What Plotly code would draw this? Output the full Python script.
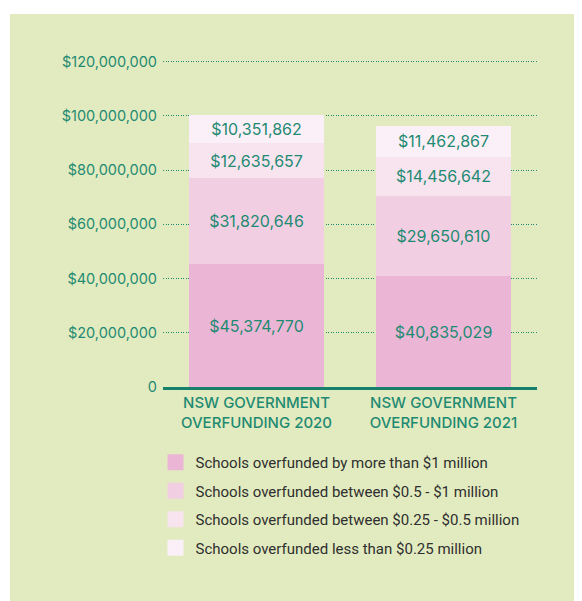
import plotly.graph_objs as go

# chart data
years = ["NSW GOVERNMENT<br>OVERFUNDING 2020", "NSW GOVERNMENT<br>OVERFUNDING 2021"]
over_1m = [45374770, 40835029]
between_05_1m = [31820646, 29650610]
between_025_05m = [12635657, 14456642]
under_025m = [10351862, 11462867]

series_names = [
    "Schools overfunded by more than $1 million",
    "Schools overfunded between $0.5 - $1 million",
    "Schools overfunded between $0.25 - $0.5 million",
    "Schools overfunded less than $0.25 million",
]
series_values = [over_1m, between_05_1m, between_025_05m, under_025m]
colors = ["#ebb6d6", "#f2cee2", "#f7e4ef", "#fbf0f7"]

y_ticks = [0, 20e6, 40e6, 60e6, 80e6, 100e6, 120e6]
y_tick_text = ["0", "$20,000,000", "$40,000,000", "$60,000,000",
               "$80,000,000", "$100,000,000", "$120,000,000"]

TEAL = "#1f8a72"
# page body has an 8px margin, so the figure is 8px smaller than the window
W, H = 574, 593
ML, MR, MT, MB = 155, 45, 51, 214

data = []
for name, vals, col in zip(series_names, series_values, colors):
    data.append(go.Bar(
        x=years,
        y=vals,
        name=name,
        marker=dict(color=col, line=dict(width=0)),
        text=["${:,}".format(v) for v in vals],
        textposition="inside",
        insidetextanchor="middle",
        textangle=0,
        textfont=dict(family="Inter", size=16, color=TEAL),
        showlegend=False,
        hoverinfo="skip"))

# legend proxies (bigger squares)
for i, (name, col) in enumerate(zip(series_names, colors)):
    data.append(go.Scatter(
        x=[None], y=[None],
        mode="markers",
        name=name,
        legendgroup=str(i),
        marker=dict(symbol="square", size=20, color=col),
        showlegend=True))

pw = W - ML - MR
ph = H - MT - MB
bg = dict(type="rect", xref="paper", yref="paper", layer="below",
          x0=(2 - ML) / pw, x1=(W - ML) / pw,
          y0=-MB / ph, y1=(H - 6 - MB) / ph,
          fillcolor="#e2ebbf", line=dict(width=0))

layout = go.Layout(
    width=W, height=H,
    margin=dict(l=ML, r=MR, t=MT, b=MB),
    paper_bgcolor="white",
    plot_bgcolor="rgba(0,0,0,0)",
    barmode="stack",
    bargap=0.28,
    shapes=[bg],
    font=dict(family="Inter", color=TEAL),
    xaxis=dict(
        showgrid=False,
        showline=True, linecolor="#17806a", linewidth=3,
        tickfont=dict(family="Inter", size=15, color=TEAL, weight=500),
        ticks=""),
    yaxis=dict(
        range=[0, 121e6],
        tickvals=y_ticks, ticktext=y_tick_text,
        tickfont=dict(family="Inter", size=14.5, color=TEAL),
        showgrid=True, gridcolor=TEAL, gridwidth=1, griddash="1px,1.5px",
        zeroline=False, ticks="", ticklabelstandoff=5),
    legend=dict(
        orientation="v",
        x=-0.02, xanchor="left",
        y=-0.18, yanchor="top",
        traceorder="grouped",
        tracegroupgap=6,
        bgcolor="rgba(0,0,0,0)",
        font=dict(family="Roboto", size=15, color="#2f2f2f")),
)

fig = go.Figure(data=data, layout=layout)
fig.write_html("out.html")
